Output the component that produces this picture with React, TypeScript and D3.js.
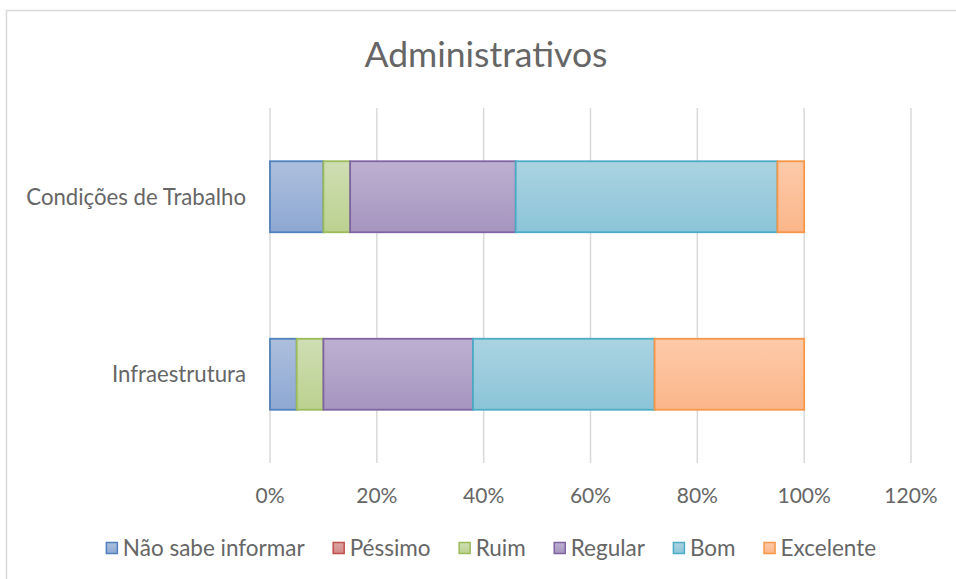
import React, { useEffect, useRef } from 'react';
import * as d3 from 'd3';

const categories = ['Condições de Trabalho', 'Infraestrutura'];
const seriesNames = ['Não sabe informar', 'Péssimo', 'Ruim', 'Regular', 'Bom', 'Excelente'];
const condicoesValues = [0.10, 0.0, 0.05, 0.31, 0.49, 0.05];
const infraValues = [0.05, 0.0, 0.05, 0.28, 0.34, 0.28];
const xTicks = [0, 0.2, 0.4, 0.6, 0.8, 1.0, 1.2];

const strokeColors = ['#4f81bd', '#c0504d', '#9bbb59', '#8064a2', '#4bacc6', '#f79646'];
const topColors = ['#adbfdd', '#dba5a4', '#cfdeb4', '#bdb0d1', '#abd3e1', '#fdcaa9'];
const bottomColors = ['#8ea8d3', '#d28886', '#bbd18f', '#a695bf', '#8bc4d8', '#fbb68a'];

const W = 956;
const H = 579;
const FONT = 'Lato, "Open Sans", sans-serif';
const TEXT = '#666666';

const App: React.FC = () => {
    const svgRef = useRef<SVGSVGElement | null>(null);

    useEffect(() => {
        const svg = d3.select(svgRef.current).attr('width', W).attr('height', H);
        svg.selectAll('*').remove();

        const margin = { top: 108, left: 270, right: 911, bottom: 463 };

        // chart frame
        svg.append('rect')
            .attr('x', 6.5).attr('y', 10.5)
            .attr('width', 980).attr('height', 600)
            .attr('fill', '#fff').attr('stroke', '#d9d9d9').attr('stroke-width', 1.5);

        const defs = svg.append('defs');
        seriesNames.forEach((_, i) => {
            const g = defs.append('linearGradient')
                .attr('id', `grad-${i}`)
                .attr('x1', '0%').attr('y1', '0%').attr('x2', '0%').attr('y2', '100%');
            g.append('stop').attr('offset', '0%').attr('stop-color', topColors[i]);
            g.append('stop').attr('offset', '100%').attr('stop-color', bottomColors[i]);
        });

        const xScale = d3.scaleLinear().domain([0, 1.2]).range([margin.left, margin.right]);
        const yScale = d3.scaleBand<string>()
            .domain(categories)
            .range([margin.top, margin.bottom])
            .paddingInner(0.6)
            .paddingOuter(0.3);

        // gridlines
        svg.append('g')
            .selectAll('line')
            .data(xTicks)
            .join('line')
            .attr('x1', d => xScale(d)).attr('x2', d => xScale(d))
            .attr('y1', margin.top).attr('y2', margin.bottom)
            .attr('stroke', '#d9d9d9').attr('stroke-width', 1.5);

        // x tick labels
        svg.append('g')
            .selectAll('text')
            .data(xTicks)
            .join('text')
            .attr('x', d => xScale(d))
            .attr('y', 503)
            .attr('text-anchor', 'middle')
            .attr('font-family', FONT).attr('font-size', 21).attr('fill', TEXT)
            .text(d => d3.format('.0%')(d));

        // category labels
        svg.append('g')
            .selectAll('text')
            .data(categories)
            .join('text')
            .attr('x', 246)
            .attr('y', d => (yScale(d) as number) + yScale.bandwidth() / 2)
            .attr('dy', '0.35em')
            .attr('text-anchor', 'end')
            .attr('font-family', FONT).attr('font-size', 22.2).attr('fill', TEXT)
            .text(d => d);

        // stacked bars
        const rows = [
            { cat: categories[0], values: condicoesValues },
            { cat: categories[1], values: infraValues },
        ];
        rows.forEach(row => {
            let acc = 0;
            row.values.forEach((v, i) => {
                const x0 = acc;
                acc += v;
                if (v <= 0) return;
                svg.append('rect')
                    .attr('x', xScale(x0))
                    .attr('y', yScale(row.cat) as number)
                    .attr('width', xScale(acc) - xScale(x0))
                    .attr('height', yScale.bandwidth())
                    .attr('fill', `url(#grad-${i})`)
                    .attr('stroke', strokeColors[i])
                    .attr('stroke-width', 1.8);
            });
        });

        // title
        svg.append('text')
            .attr('x', 486).attr('y', 67)
            .attr('text-anchor', 'middle')
            .attr('font-family', FONT).attr('font-size', 35.5).attr('fill', TEXT)
            .text('Administrativos');

        // legend
        const legend = svg.append('g');
        const items = seriesNames.map((name, i) => {
            const g = legend.append('g');
            g.append('rect')
                .attr('x', 0.5).attr('y', -5.5)
                .attr('width', 11).attr('height', 11)
                .attr('fill', `url(#grad-${i})`)
                .attr('stroke', strokeColors[i]).attr('stroke-width', 1.5);
            const t = g.append('text')
                .attr('x', 17).attr('dy', '0.35em')
                .attr('font-family', FONT).attr('font-size', 22.5).attr('fill', TEXT)
                .text(name);
            const w = 17 + (t.node() as SVGTextElement).getComputedTextLength();
            return { g, w };
        });
        const gap = 28;
        const total = d3.sum(items, d => d.w) + gap * (items.length - 1);
        let lx = 491 - total / 2;
        items.forEach(it => {
            it.g.attr('transform', `translate(${lx},548)`);
            lx += it.w + gap;
        });
    }, []);

    return <svg ref={svgRef} style={{ position: 'absolute', left: 0, top: 0 }}></svg>;
};

export default App;
